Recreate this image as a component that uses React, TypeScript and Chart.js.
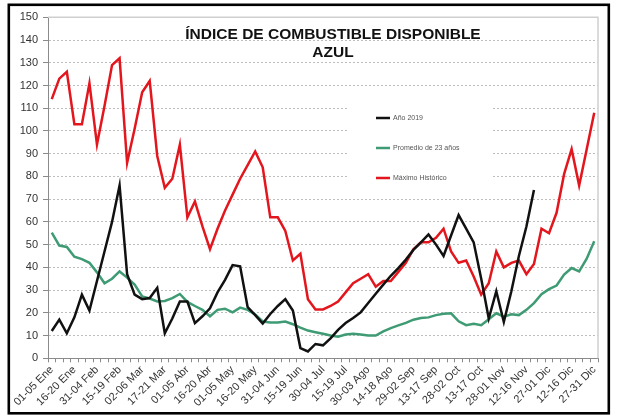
import React, { useEffect, useRef } from "react";
import { Chart, registerables } from "chart.js";

Chart.register(...registerables);

const CATEGORIES = [
  "01-05 Ene", "06-10 Ene", "11-15 Ene", "16-20 Ene", "21-25 Ene", "26-30 Ene", "31-04 Feb",
  "05-09 Feb", "10-14 Feb", "15-19 Feb", "20-24 Feb", "25-01 Mar",
  "02-06 Mar", "07-11 Mar", "12-16 Mar", "17-21 Mar", "22-26 Mar", "27-31 Mar",
  "01-05 Abr", "06-10 Abr", "11-15 Abr", "16-20 Abr", "21-25 Abr", "26-30 Abr",
  "01-05 May", "06-10 May", "11-15 May", "16-20 May", "21-25 May", "26-30 May", "31-04 Jun",
  "05-09 Jun", "10-14 Jun", "15-19 Jun", "20-24 Jun", "25-29 Jun", "30-04 Jul",
  "05-09 Jul", "10-14 Jul", "15-19 Jul", "20-24 Jul", "25-29 Jul", "30-03 Ago",
  "04-08 Ago", "09-13 Ago", "14-18 Ago", "19-23 Ago", "24-28 Ago", "29-02 Sep",
  "03-07 Sep", "08-12 Sep", "13-17 Sep", "18-22 Sep", "23-27 Sep", "28-02 Oct",
  "03-07 Oct", "08-12 Oct", "13-17 Oct", "18-22 Oct", "23-27 Oct", "28-01 Nov",
  "02-06 Nov", "07-11 Nov", "12-16 Nov", "17-21 Nov", "22-26 Nov", "27-01 Dic",
  "02-06 Dic", "07-11 Dic", "12-16 Dic", "17-21 Dic", "22-26 Dic", "27-31 Dic",
];

const ANO_2019 = [
  12, 17, 11, 18, 28, 21, 34, 47, 60, 76,
  37, 28, 26, 26.5, 31, 11, 17.5, 25, 25, 15.5,
  18.5, 22, 29, 34.5, 41, 40.5, 22.5, 19, 15.3, 19.5,
  23, 26, 21, 4.5, 3, 6.3, 5.7, 8.8, 12.5, 15.5,
  17.7, 20.2, 24.3, 28.4, 32.4, 36.3, 39.7, 43.4, 47.7, 51,
  54.5, 50, 45, 54, 63, 57, 51, 35, 17.5, 29.5,
  16, 29.5, 45, 58, 74,
  null, null, null, null, null, null, null, null,
];

const PROMEDIO_23 = [
  55.3, 49.6, 49, 44.7, 43.6, 42, 37.8, 33, 35, 38.2,
  35.5, 32.4, 27.2, 26.3, 25, 25.2, 26.5, 28.3, 24.8, 23,
  21.3, 18.5, 21.3, 21.8, 20.2, 22.3, 21.3, 19.3, 16.2, 15.7,
  15.7, 16.2, 15, 13.5, 12.2, 11.5, 10.8, 10, 9.5, 10.5,
  10.8, 10.5, 10, 10, 11.8, 13.3, 14.5, 15.6, 17, 17.7,
  18, 19, 19.6, 19.8, 16.3, 14.6, 15.2, 14.6, 17.2, 19.8,
  18.3, 19.4, 19, 21.3, 24.3, 28.2, 30.4, 32, 36.8, 39.7,
  38.2, 43.8, 51.5,
];

const MAXIMO_HISTORICO = [
  114, 123, 126, 103, 103, 121, 94, 111, 129, 132,
  86, 101, 117, 122, 89, 75, 79, 94, 62, 69,
  58, 48, 57, 65, 72, 79, 85, 91, 84, 62,
  62, 56, 43, 46, 26, 21.5, 21.5, 23, 25, 29,
  33, 35, 37, 31.5, 34, 34, 38, 42, 48, 51,
  51, 53, 57, 47, 42, 43, 36, 28, 33, 47,
  40, 42, 43, 37, 41.5, 57, 55, 64, 81, 92,
  76, 92, 108,
];

const Y_TICKS = { min: 0, max: 150, step: 10 };
const TITLE_LINES = ["ÍNDICE DE COMBUSTIBLE DISPONIBLE", "AZUL"];
const SERIES_NAMES = ["Año 2019", "Promedio de 23 años", "Máximo Histórico"];
const COLORS = ["#111111", "#3e9b73", "#e3161d"];

const FONT = "Arial, 'Liberation Sans', sans-serif";

const decorPlugin = {
  id: "decor",
  beforeDraw(chart: any) {
    const { ctx, width, height } = chart;
    ctx.save();
    ctx.fillStyle = "#ffffff";
    ctx.fillRect(0, 0, width, height);
    ctx.restore();
  },
  beforeDatasetsDraw(chart: any) {
    const { ctx, chartArea } = chart;
    ctx.save();
    // plot area border
    ctx.strokeStyle = "#cfcfcf";
    ctx.lineWidth = 1.5;
    ctx.beginPath();
    ctx.moveTo(chartArea.left, chartArea.top);
    ctx.lineTo(chartArea.right, chartArea.top);
    ctx.lineTo(chartArea.right, chartArea.bottom);
    ctx.stroke();
    // legend box
    ctx.fillStyle = "#ffffff";
    ctx.fillRect(348, 96, 144, 94);
    const ys = [118, 148, 178];
    SERIES_NAMES.forEach((name, i) => {
      ctx.strokeStyle = COLORS[i];
      ctx.lineWidth = 2.5;
      ctx.beginPath();
      ctx.moveTo(376, ys[i]);
      ctx.lineTo(390, ys[i]);
      ctx.stroke();
      ctx.fillStyle = "#555555";
      ctx.font = `7px ${FONT}`;
      ctx.textAlign = "left";
      ctx.textBaseline = "middle";
      ctx.fillText(name, 393, ys[i]);
    });
    ctx.restore();
  },
  afterDraw(chart: any) {
    const { ctx } = chart;
    ctx.save();
    ctx.fillStyle = "#111111";
    ctx.font = `bold 15.5px ${FONT}`;
    ctx.textAlign = "center";
    ctx.textBaseline = "alphabetic";
    ctx.fillText(TITLE_LINES[0], 333, 38.5);
    ctx.fillText(TITLE_LINES[1], 333, 57);
    // outer frame
    ctx.strokeStyle = "#000000";
    ctx.lineWidth = 2.6;
    ctx.strokeRect(8.8, 4.8, 600, 408.5);
    ctx.restore();
  },
};

export default function App() {
  const ref = useRef<HTMLCanvasElement | null>(null);

  useEffect(() => {
    if (!ref.current) return;
    const chart = new Chart(ref.current, {
      type: "line",
      data: {
        labels: CATEGORIES,
        datasets: [
          { label: SERIES_NAMES[0], data: ANO_2019, borderColor: COLORS[0], borderWidth: 2.5, pointRadius: 0, tension: 0, spanGaps: false },
          { label: SERIES_NAMES[1], data: PROMEDIO_23, borderColor: COLORS[1], borderWidth: 2.5, pointRadius: 0, tension: 0 },
          { label: SERIES_NAMES[2], data: MAXIMO_HISTORICO, borderColor: COLORS[2], borderWidth: 2.5, pointRadius: 0, tension: 0 },
        ],
      },
      options: {
        animation: false,
        responsive: false,
        maintainAspectRatio: false,
        events: [],
        layout: { padding: { left: 8, top: 17.3, right: 24, bottom: 0 } },
        plugins: {
          legend: { display: false },
          title: { display: false },
          tooltip: { enabled: false },
        },
        scales: {
          x: {
            type: "category",
            offset: true,
            afterFit: (scale: any) => { scale.height = 56.7; },
            grid: { drawOnChartArea: false, drawTicks: true, tickLength: 4, tickColor: "#8a8a8a", offset: true },
            border: { display: true, color: "#8a8a8a", width: 1 },
            ticks: {
              autoSkip: false,
              minRotation: 45,
              maxRotation: 45,
              padding: 1,
              color: "#333333",
              font: { family: FONT, size: 11 },
              callback: function (this: any, value: any, index: number) {
                return index % 3 === 0 ? this.getLabelForValue(value) : "";
              },
            },
          },
          y: {
            min: Y_TICKS.min,
            max: Y_TICKS.max,
            afterFit: (scale: any) => { scale.width = 40; },
            grid: { color: "#bdbdbd", lineWidth: 1, drawTicks: true, tickLength: 5, tickColor: "#8a8a8a" },
            border: { display: true, color: "#8a8a8a", width: 1, dash: [2, 2] },
            ticks: {
              stepSize: Y_TICKS.step,
              padding: 5,
              color: "#333333",
              font: { family: FONT, size: 11 },
            },
          },
        },
      },
      plugins: [decorPlugin],
    });
    return () => chart.destroy();
  }, []);

  return (
    <div style={{ position: "fixed", left: 0, top: 0, width: 622, height: 415 }}>
      <canvas ref={ref} width={622} height={415} style={{ width: 622, height: 415, display: "block" }} />
    </div>
  );
}
